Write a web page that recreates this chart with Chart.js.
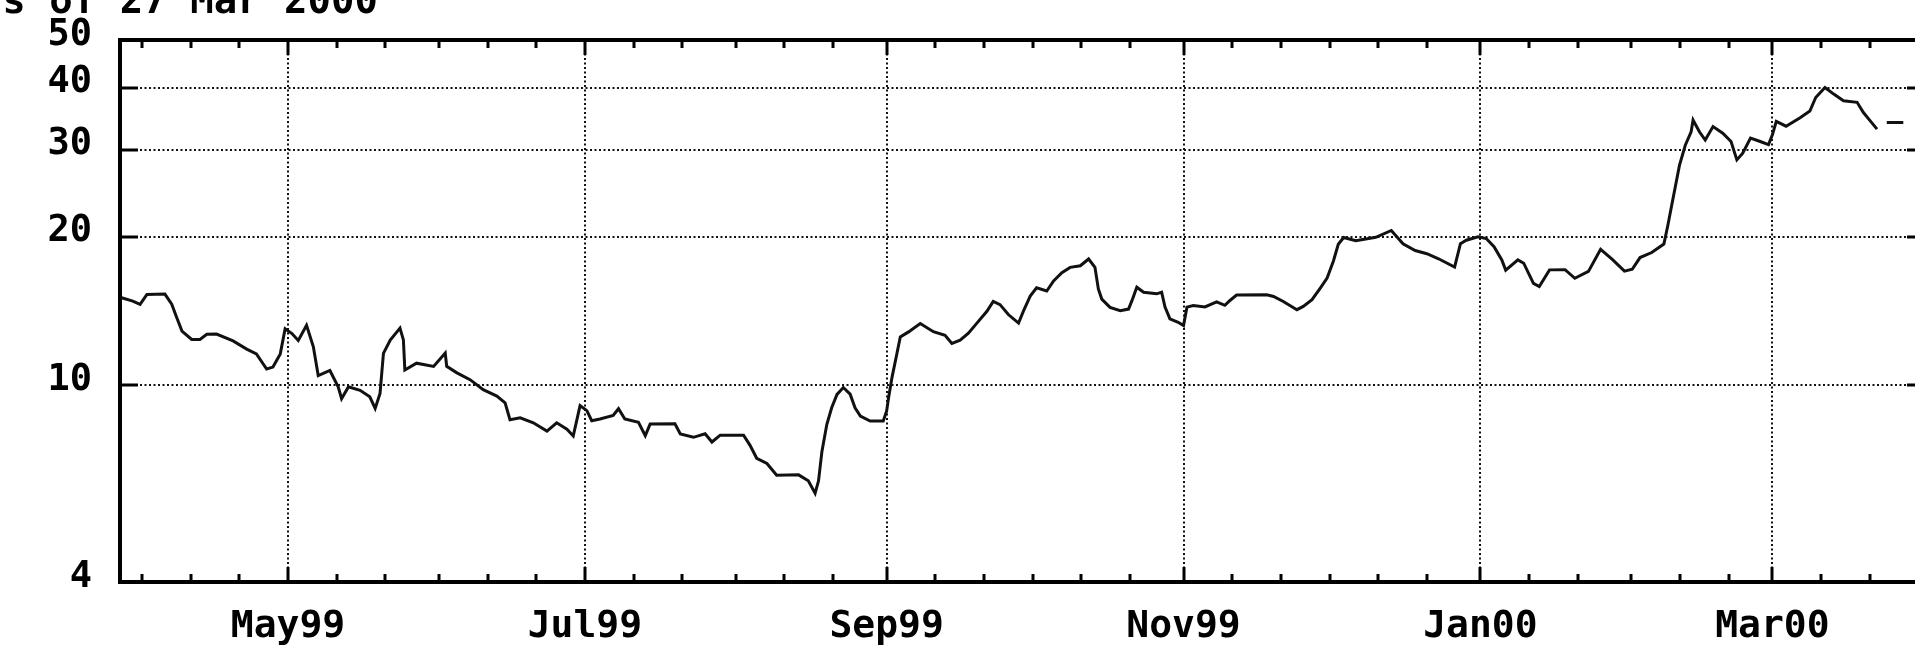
<!DOCTYPE html>
<html><head><meta charset="utf-8">
<script src="https://cdn.jsdelivr.net/npm/chart.js@4.4.1/dist/chart.umd.min.js"></script>
<style>html,body{margin:0;padding:0;background:#fff;overflow:hidden}canvas{display:block}</style>
</head><body>
<canvas id="c" width="1915" height="653"></canvas>
<script>
// ---- data ----
const startDate = '1999-03-27';           // day 0 of the x axis
const titleText = 'as of 27 Mar 2000';
const dayOffsets = [
  0.8,3.1,4.6,6.0,9.7,11.1,12.1,13.2,15.2,16.9,18.3,20.3,23.7,26.5,28.5,30.6,31.9,33.4,34.4,35.8,
  37.1,38.8,40.2,41.2,43.6,45.3,46.0,47.4,49.8,51.8,52.9,53.9,54.6,56.0,58.0,58.7,59.0,61.4,64.9,67.3,
  67.6,69.7,72.4,75.1,77.9,79.6,80.6,82.7,85.4,88.2,90.2,92.3,93.6,95.0,96.4,97.4,99.1,101.8,102.9,104.2,
  107.0,108.4,109.4,114.5,115.6,118.3,120.7,122.1,123.8,128.6,129.9,131.3,133.4,135.4,139.9,141.9,143.3,144.0,144.7,145.7,
  146.7,147.8,149.1,150.5,151.5,152.6,154.6,157.3,158.0,158.4,159.1,160.1,160.8,162.5,164.9,167.6,170.0,171.4,173.1,174.8,
  176.5,178.6,179.9,181.3,183.0,185.1,186.1,187.5,188.8,190.9,192.3,194.0,195.7,197.8,199.5,200.8,201.5,202.2,203.9,206.0,
  207.7,208.4,209.4,210.8,213.5,214.5,215.2,216.2,217.9,219.0,219.7,221.0,223.4,225.8,227.5,228.6,229.9,236.1,237.5,239.5,
  242.3,243.6,245.4,247.1,248.5,249.8,250.8,251.9,254.4,258.5,261.7,264.1,266.6,269.0,271.4,274.7,275.9,277.1,279.5,281.2,
  282.8,284.4,285.2,287.7,288.9,290.9,292.1,294.2,297.4,299.4,302.2,304.7,307.1,309.6,311.2,312.8,315.2,317.7,318.5,319.3,
  320.1,320.9,322.1,323.3,323.7,325.0,326.2,327.8,329.8,331.5,332.7,333.9,335.5,337.5,339.2,340.0,340.8,342.8,345.7,347.7,
  348.9,350.8,352.6,354.6,357.4,358.7,360.1,361.5,362.5,363.5,366.9
];
const prices = [
  15.04,14.81,14.58,15.28,15.30,14.60,13.73,12.88,12.39,12.39,12.69,12.70,12.30,11.84,11.58,10.79,10.89,11.58,13.02,12.73,
  12.33,13.23,11.97,10.47,10.72,9.93,9.40,9.93,9.77,9.48,8.98,9.63,11.61,12.35,13.06,12.36,10.74,11.09,10.92,11.63,
  10.93,10.60,10.27,9.80,9.51,9.22,8.52,8.60,8.40,8.08,8.40,8.15,7.90,9.10,8.89,8.48,8.55,8.69,8.97,8.55,
  8.42,7.91,8.35,8.36,7.97,7.85,7.98,7.68,7.93,7.93,7.57,7.12,6.95,6.58,6.59,6.41,6.05,6.41,7.35,8.33,
  9.01,9.59,9.90,9.60,9.01,8.67,8.47,8.47,8.88,9.45,10.38,11.59,12.53,12.83,13.34,12.84,12.63,12.16,12.34,12.75,
  13.35,14.12,14.79,14.57,13.91,13.37,14.13,15.16,15.76,15.52,16.27,16.91,17.33,17.46,18.02,17.34,15.67,14.95,14.38,14.16,
  14.27,14.84,15.80,15.43,15.32,15.44,14.40,13.63,13.42,13.21,14.40,14.51,14.41,14.76,14.52,14.87,15.23,15.25,15.13,14.78,
  14.23,14.45,14.91,15.74,16.49,17.85,19.30,19.92,19.62,19.94,20.58,19.34,18.75,18.47,18.04,17.36,19.36,19.67,19.99,19.82,
  19.09,17.94,17.11,17.95,17.67,16.09,15.85,17.13,17.14,16.47,17.01,18.85,17.99,17.03,17.18,18.14,18.57,19.32,21.04,23.12,
  25.39,27.88,30.62,32.60,34.43,32.60,31.37,33.40,32.38,31.15,28.60,29.50,31.67,31.16,30.70,32.16,34.22,33.46,34.80,35.90,
  38.25,40.08,38.86,37.66,37.40,35.66,34.30,33.00,null,34.05,34.05
];
const yTickValues = [4, 10, 20, 30, 40, 50];
const monthLabels = ['May99','Jul99','Sep99','Nov99','Jan00','Mar00'];
const labelDates = ['1999-05-01','1999-07-01','1999-09-01','1999-11-01','2000-01-01','2000-03-01'];
const minorTickDaysOfMonth = [1, 11, 21];
const xRange = [0.47, 369.3];
const yRange = [4, 50];

// ---- helpers ----
const dayOf = s => (Date.parse(s) - Date.parse(startDate)) / 864e5;
const labelDays = labelDates.map(dayOf);
const tickDays = [];
for (let y = 1999, m = 2; ; ) {
  minorTickDaysOfMonth.forEach(d => {
    const mm = String(m + 1).padStart(2, '0'), dd = String(d).padStart(2, '0');
    const v = dayOf(`${y}-${mm}-${dd}`);
    if (v > xRange[0] && v < xRange[1]) tickDays.push(v);
  });
  m++; if (m > 11) { m = 0; y++; }
  if (y === 2000 && m > 2) break;
}
const isMajor = v => labelDays.some(d => Math.abs(d - v) < 0.01);
const labelFor = v => { const i = labelDays.findIndex(d => Math.abs(d - v) < 0.01); return i >= 0 ? monthLabels[i] : ''; };

const FONT = 'DejaVu Sans Mono';
const points = dayOffsets.map((d, i) => ({ x: d, y: prices[i] }));

const frameTicks = {
  id: 'frameTicks',
  beforeDraw(chart) {
    const c = chart.ctx;
    c.save(); c.fillStyle = '#fff'; c.fillRect(0, 0, chart.width, chart.height); c.restore();
  },
  afterDatasetsDraw(chart) {
    const { ctx, chartArea: a, scales: { x, y } } = chart;
    ctx.save();
    ctx.strokeStyle = '#000';
    ctx.lineWidth = 3;
    ctx.beginPath();
    tickDays.forEach(d => {
      const px = Math.round(x.getPixelForValue(d));
      const len = isMajor(d) ? 15 : 8;
      ctx.moveTo(px, a.bottom); ctx.lineTo(px, a.bottom - len);
      ctx.moveTo(px, a.top); ctx.lineTo(px, a.top + len);
    });
    yTickValues.filter(v => v > yRange[0] && v < yRange[1]).forEach(v => {
      const py = Math.round(y.getPixelForValue(v));
      ctx.moveTo(a.left, py); ctx.lineTo(a.left + 18, py);
      ctx.moveTo(a.right - 8, py); ctx.lineTo(a.right, py);
    });
    ctx.stroke();
    // title (partly cut off at the top-left, as in the reference)
    ctx.fillStyle = '#000';
    ctx.font = `bold 39px "${FONT}"`;
    ctx.textAlign = 'right';
    ctx.textBaseline = 'alphabetic';
    ctx.fillText(titleText, 378, 13);
    ctx.restore();
  }
};

new Chart(document.getElementById('c'), {
  type: 'line',
  data: {
    datasets: [{
      data: points,
      borderColor: '#111',
      borderWidth: 3,
      pointRadius: 0,
      tension: 0,
      spanGaps: false
    }]
  },
  options: {
    responsive: false,
    animation: false,
    layout: { padding: 0 },
    plugins: { legend: { display: false }, tooltip: { enabled: false }, title: { display: false } },
    scales: {
      x: {
        type: 'linear', position: 'bottom',
        min: xRange[0], max: xRange[1],
        afterBuildTicks: s => { s.ticks = tickDays.map(v => ({ value: v })); },
        afterFit: s => { s.height = 71; s.paddingLeft = 0; s.paddingRight = 0; },
        ticks: {
          autoSkip: false, maxRotation: 0, minRotation: 0, padding: 22,
          color: '#000', font: { family: FONT, size: 38, weight: 'bold' },
          callback: v => labelFor(v)
        },
        grid: {
          drawTicks: false,
          lineWidth: 2,
          color: ctx => (ctx.tick && isMajor(ctx.tick.value)) ? '#111' : 'rgba(0,0,0,0)'
        },
        border: { display: true, color: '#000', width: 4, dash: [2, 2.5] }
      },
      xTop: {
        type: 'linear', position: 'top',
        min: xRange[0], max: xRange[1],
        afterFit: s => { s.height = 40; s.paddingLeft = 0; s.paddingRight = 0; },
        ticks: { display: false },
        grid: { display: false, drawTicks: false },
        border: { display: true, color: '#000', width: 4 }
      },
      y: {
        type: 'logarithmic', position: 'left',
        min: yRange[0], max: yRange[1],
        afterBuildTicks: s => { s.ticks = yTickValues.map(v => ({ value: v })); },
        afterFit: s => { s.width = 120; s.paddingTop = 0; s.paddingBottom = 0; },
        ticks: {
          autoSkip: false, padding: 28, labelOffset: -5,
          color: '#000', font: { family: FONT, size: 37, weight: 'bold' },
          callback: v => String(v)
        },
        grid: {
          drawTicks: false,
          lineWidth: 2,
          color: ctx => (ctx.tick && (ctx.tick.value === yRange[0] || ctx.tick.value === yRange[1])) ? 'rgba(0,0,0,0)' : '#111'
        },
        border: { display: true, color: '#000', width: 4, dash: [2, 2.5] }
      }
    }
  },
  plugins: [frameTicks]
});
</script>
</body></html>
